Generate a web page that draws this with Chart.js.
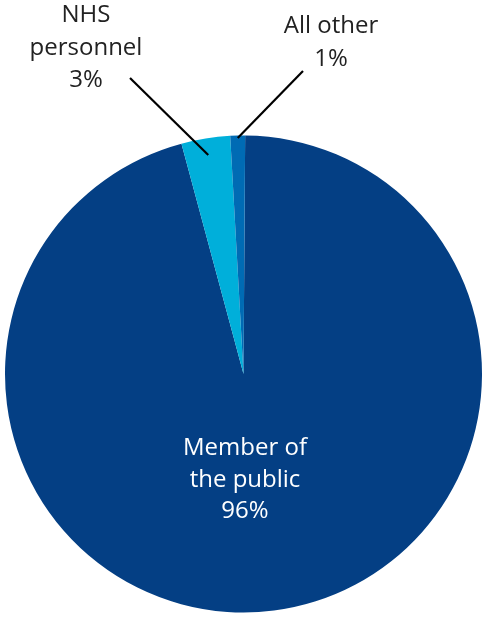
<!DOCTYPE html>
<html>
<head>
<meta charset="utf-8">
<script src="https://cdn.jsdelivr.net/npm/chart.js@4"></script>
<style>
  body { margin: 0; background: #fff; }
  #box { width: 483px; height: 617px; position: relative; }
</style>
</head>
<body>
<div id="box"><canvas id="myChart"></canvas></div>
<script>
// dados do grafico
const categorias = ['Member of the public', 'NHS personnel', 'All other'];
const valores = [95.7, 3.3, 1.0];
const rotulos = [['Member of', 'the public', '96%'], ['NHS', 'personnel', '3%'], ['All other', '1%']];
const cores = ['#043F84', '#00AFDA', '#006BB4'];

// x do centro do texto e linha de base da primeira linha
const posTexto = [[245, 455], [86, 22], [331, 33]];
const pontaLinha = [null, [130, 78], [303, 71]];
const raioLinha = [0, 0.93, 0.99];

const rotulosPlugin = {
  id: 'rotulos',
  afterDatasetsDraw(chart) {
    const ctx = chart.ctx;
    const arcos = chart.getDatasetMeta(0).data;
    ctx.save();
    ctx.font = '24px "Open Sans"';
    ctx.textAlign = 'center';
    ctx.textBaseline = 'alphabetic';
    arcos.forEach((arco, i) => {
      if (pontaLinha[i]) {
        const meio = (arco.startAngle + arco.endAngle) / 2;
        const r = arco.outerRadius * raioLinha[i];
        ctx.beginPath();
        ctx.moveTo(pontaLinha[i][0], pontaLinha[i][1]);
        ctx.lineTo(arco.x + Math.cos(meio) * r, arco.y + Math.sin(meio) * r);
        ctx.strokeStyle = '#000';
        ctx.lineWidth = 2.2;
        ctx.stroke();
      }
      ctx.fillStyle = i == 0 ? '#fff' : '#222';
      const alt = i == 0 ? 31.7 : 32.5;
      rotulos[i].forEach((l, k) => ctx.fillText(l, posTexto[i][0], posTexto[i][1] + k * alt));
    });
    ctx.restore();
  }
};

const ctx = document.getElementById('myChart').getContext('2d');
const grafico = new Chart(ctx, {
  type: 'pie',
  data: {
    labels: categorias,
    datasets: [{
      data: valores,
      backgroundColor: cores,
      borderWidth: 0
    }]
  },
  options: {
    responsive: true,
    maintainAspectRatio: false,
    animation: false,
    rotation: 0.4,
    layout: { padding: { left: 5, right: 1, top: 135.5, bottom: 4.5 } },
    plugins: {
      legend: { display: false },
      tooltip: { enabled: false }
    }
  },
  plugins: [rotulosPlugin]
});
</script>
</body>
</html>
